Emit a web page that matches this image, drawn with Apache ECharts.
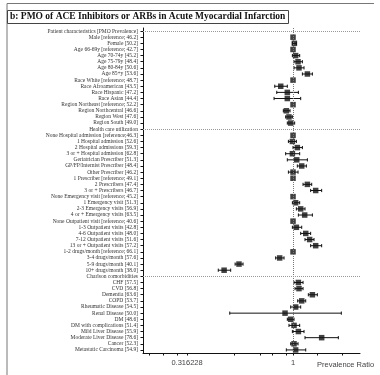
<!DOCTYPE html>
<html><head><meta charset="utf-8">
<script src="https://cdn.jsdelivr.net/npm/echarts@6/dist/echarts.min.js"></script>
<style>html,body{margin:0;padding:0;background:#fff}#c{width:380px;height:375px}</style>
</head><body><div id="c"></div>
<script>
const titleText = "b: PMO of ACE Inhibitors or ARBs in Acute Myocardial Infarction";
const categories = [
"Patient characteristics [PMO Prevalence]",
"Male [reference; 46.2]",
"Female [50.2]",
"Age 66-69y [reference; 42.7]",
"Age 70-74y [45.2]",
"Age 75-79y [48.4]",
"Age 80-84y [50.6]",
"Age 85+y [53.6]",
"Race White [reference; 48.7]",
"Race Afroamerican [43.5]",
"Race Hispanic [47.2]",
"Race Asian [44.4]",
"Region Northeast [reference; 52.2]",
"Region Northcentral [46.6]",
"Region West [47.6]",
"Region South [49.0]",
"Health care utilization",
"None Hospital admission [reference;46.3]",
"1 Hospital admission [52.6]",
"2 Hospital admissions [59.3]",
"3 or + Hospital admission [62.8]",
"Geriatrician Prescriber [51.3]",
"GP/FP/Internist Prescriber [48.4]",
"Other Prescriber [46.2]",
"1 Prescriber [reference; 49.1]",
"2 Prescribers [47.4]",
"3 or + Prescribers [46.7]",
"None Emergency visit [reference; 45.2]",
"1 Emergency visit [51.3]",
"2-3 Emergency visits [56.9]",
"4 or + Emergency visits [63.5]",
"None Outpatient visit [reference; 40.6]",
"1-3 Outpatient visits [42.8]",
"4-6 Outpatient visits [48.0]",
"7-12 Outpatient visits [51.6]",
"13 or + Outpatient visits [57.2]",
"1-2 drugs/month [reference; 66.1]",
"3-4 drugs/month [57.6]",
"5-9 drugs/month [40.1]",
"10+ drugs/month [38.0]",
"Charlson comorbidities",
"CHF [57.5]",
"CVD [56.8]",
"Dementia [63.6]",
"COPD [53.7]",
"Rheumatic Disease [54.5]",
"Renal Disease [50.0]",
"DM [48.6]",
"DM with complications [51.4]",
"Mild Liver Disease [55.9]",
"Moderate Liver Disease [78.6]",
"Cancer [52.3]",
"Metastatic Carcinoma [54.9]"
];
const headerRows = ["Patient characteristics [PMO Prevalence]", "Health care utilization", "Charlson comorbidities"];
const ratio = [
null,
1, 1.015, 1, 1.029, 1.056, 1.067, 1.169,
1, 0.875, 0.94, 0.94,
1, 0.93, 0.957, 0.975,
null,
1, 0.993, 1.048, 0.993, 1.041, 1.099, 1.0,
1, 1.169, 1.279,
1, 1.029, 1.087, 1.135,
1, 1.037, 1.148, 1.198, 1.279,
1, 0.865, 0.556, 0.473,
null,
1.06, 1.067, 1.234, 1.099, 1.029, 0.917, 0.975, 1.011, 1.06, 1.365, 1.011, 1.029
];
const ciLow = [
null,
null, 0.993, null, 0.993, 1.011, 1.011, 1.107,
null, 0.82, 0.838, 0.814,
null, 0.90, 0.923, 0.94,
null,
null, 0.951, 1.0, 0.923, 0.94, 1.048, 0.951,
null, 1.115, 1.211,
null, 0.993, 1.037, 1.06,
null, 0.993, 1.087, 1.139, 1.211,
null, 0.828, 0.533, 0.444,
null,
1.011, 1.022, 1.181, 1.052, 0.975, 0.503, 0.94, 0.957, 0.993, 1.139, 0.975, 0.93
];
const ciHigh = [
null,
null, 1.037, null, 1.075, 1.107, 1.127, 1.234,
null, 0.94, 1.06, 1.087,
null, 0.968, 0.993, 1.018,
null,
null, 1.037, 1.107, 1.075, 1.169, 1.156, 1.056,
null, 1.225, 1.365,
null, 1.075, 1.139, 1.234,
null, 1.099, 1.211, 1.256, 1.365,
null, 0.907, 0.581, 0.508,
null,
1.115, 1.115, 1.302, 1.148, 1.087, 1.690, 1.011, 1.075, 1.127, 1.636, 1.056, 1.148
];
const xLabelValues = [0.316228, 1];
const xTickValues = [0.21, 0.245, 0.285, 0.316228, 0.53, 0.7, 0.8, 0.93, 1, 1.3, 1.7];
const xName = "Prevalence Ratio";

const pointData = [];
const ciData = [];
categories.forEach((c, i) => {
  if (ratio[i] != null) pointData.push([ratio[i], c]);
  if (ciLow[i] != null) ciData.push([ciLow[i], ciHigh[i], c]);
});

const markData = [{xAxis: 1, lineStyle: {type: 'dotted', color: '#777', width: 1}}]
  .concat(headerRows.map(h => ({yAxis: h, lineStyle: {type: 'dotted', color: '#999', width: 1}})));

const chart = echarts.init(document.getElementById('c'), null, {renderer: 'canvas'});
chart.setOption({
  animation: false,
  backgroundColor: '#fff',
  title: {
    text: titleText, left: 7, top: 10, padding: [2, 3, 2, 3],
    borderColor: '#444', borderWidth: 1,
    textStyle: {fontFamily: 'Liberation Serif', fontWeight: 'bold', fontSize: 9.5, color: '#111'}
  },
  graphic: [
    {type: 'polyline', shape: {points: [[7, 375], [7, 3.5], [374, 3.5]]}, style: {stroke: '#777', lineWidth: 1, fill: null}},
    {type: 'text', left: 317, top: 361, style: {text: xName, fontFamily: 'Liberation Sans', fontSize: 7.5, fill: '#444'}}
  ],
  grid: {left: 143, right: 20, top: 28, bottom: 22, containLabel: false},
  xAxis: {
    type: 'log', logBase: 10, min: 0.196, max: 2.07,
    axisLine: {show: true, lineStyle: {color: '#111', width: 1}},
    axisTick: {show: true, length: 2.5, customValues: xTickValues, lineStyle: {color: '#111'}},
    axisLabel: {show: true, customValues: xLabelValues, fontFamily: 'Liberation Sans', fontSize: 7.5, color: '#444', margin: 6,
      formatter: v => (Math.abs(v - 1) < 1e-6 ? '1' : '0.316228')},
    splitLine: {show: false}, minorTick: {show: false}
  },
  yAxis: {
    type: 'category', data: categories, inverse: true,
    axisLine: {show: true, lineStyle: {color: '#111', width: 1}},
    axisTick: {show: true, length: 2.5, alignWithLabel: true, interval: 0, lineStyle: {color: '#111'}},
    axisLabel: {interval: 0, fontFamily: 'Liberation Serif', fontSize: 5.5, color: '#333', margin: 5},
    splitLine: {show: false}
  },
  series: [
    {
      type: 'custom', data: ciData, encode: {x: [0, 1], y: 2}, silent: true, z: 3,
      renderItem: function (params, api) {
        const yv = api.value(2);
        const p1 = api.coord([api.value(0), yv]);
        const p2 = api.coord([api.value(1), yv]);
        const h = 1.6;
        const st = {stroke: '#111', lineWidth: 1};
        return {type: 'group', children: [
          {type: 'line', shape: {x1: p1[0], y1: p1[1], x2: p2[0], y2: p2[1]}, style: st},
          {type: 'line', shape: {x1: p1[0], y1: p1[1] - h, x2: p1[0], y2: p1[1] + h}, style: st},
          {type: 'line', shape: {x1: p2[0], y1: p2[1] - h, x2: p2[0], y2: p2[1] + h}, style: st}
        ]};
      }
    },
    {
      type: 'scatter', data: pointData, symbol: 'rect', symbolSize: 5.5, z: 4,
      itemStyle: {color: '#111'},
      markLine: {
        silent: true, symbol: 'none', label: {show: false},
        data: markData
      }
    }
  ]
});
</script></body></html>
